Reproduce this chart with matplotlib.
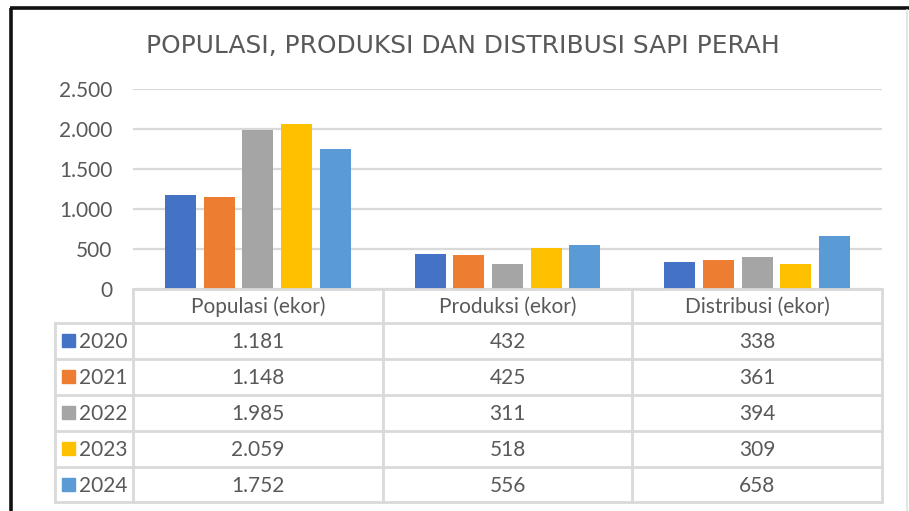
import matplotlib
matplotlib.use("Agg")
import matplotlib.pyplot as plt
import numpy as np

# ---- data ----
categories = ["Populasi (ekor)", "Produksi (ekor)", "Distribusi (ekor)"]
years = ["2020", "2021", "2022", "2023", "2024"]
v2020 = [1181, 432, 338]
v2021 = [1148, 425, 361]
v2022 = [1985, 311, 394]
v2023 = [2059, 518, 309]
v2024 = [1752, 556, 658]
series = [v2020, v2021, v2022, v2023, v2024]
labels_fmt = [["1.181", "432", "338"], ["1.148", "425", "361"], ["1.985", "311", "394"],
              ["2.059", "518", "309"], ["1.752", "556", "658"]]
yticks = [0, 500, 1000, 1500, 2000, 2500]
ytick_labels = ["0", "500", "1.000", "1.500", "2.000", "2.500"]
title = "POPULASI, PRODUKSI DAN DISTRIBUSI SAPI PERAH"
colors = ["#4472C4", "#ED7D31", "#A5A5A5", "#FFC000", "#5B9BD5"]

W, H = 909, 511
fig = plt.figure(figsize=(W / 100, H / 100), dpi=100)
fig.patch.set_facecolor("white")

TXT = "#595959"
GRID = "#D9D9D9"
FONT = ["Lato", "DejaVu Sans"]
FS = 15

def fx(px):
    return px / W

def fy(py):
    return 1 - py / H

# main axes
x0, x1, ytop, ybot = 133, 882, 89, 289
ax = fig.add_axes([fx(x0), fy(ybot), fx(x1) - fx(x0), (ybot - ytop) / H])
ax.set_xlim(-0.5, 2.5)
ax.set_ylim(0, 2500)
x = np.arange(len(categories))
bw = 0.124
step = 0.155
for i, (vals, c) in enumerate(zip(series, colors)):
    ax.bar(x + (i - 2) * step, vals, width=bw, color=c, zorder=3)
ax.set_yticks(yticks)
ax.set_yticklabels(ytick_labels, fontfamily=FONT, fontsize=FS, color=TXT)
ax.tick_params(axis="y", length=0, pad=15)
ax.set_xticks([])
ax.grid(axis="y", color=GRID, linewidth=1.6, zorder=0)
for s in ax.spines.values():
    s.set_visible(False)
ax.set_facecolor("none")

# overlay axes in pixel coordinates for table and frame
ov = fig.add_axes([0, 0, 1, 1])
ov.set_xlim(0, W)
ov.set_ylim(H, 0)
ov.axis("off")
ov.set_facecolor("none")

# frame
ov.plot([10, W], [8.5, 8.5], color="#111111", lw=2.6, solid_capstyle="butt")
ov.plot([10.5, 10.5], [8, H], color="#111111", lw=2.6, solid_capstyle="butt")
ov.plot([907, 907], [10, H], color="#E0E0E0", lw=1.2)

# title
ov.text(463, 52.5, title, ha="center", va="baseline", fontsize=17.9,
        family=["DejaVu Sans"], color=TXT)

# table
col_edges = [x0 + (x1 - x0) * k / 3 for k in range(4)]
row_edges = [289, 323, 359, 395, 431, 467, 502]
leg_left = 55
lw_t = 2.0
ov.plot([col_edges[0], col_edges[-1]], [row_edges[0], row_edges[0]], color=GRID, lw=lw_t)
for r in row_edges[1:]:
    ov.plot([leg_left, col_edges[-1]], [r, r], color=GRID, lw=lw_t)
for ce in col_edges:
    ov.plot([ce, ce], [row_edges[0], row_edges[-1]], color=GRID, lw=lw_t)
ov.plot([leg_left, leg_left], [row_edges[1], row_edges[-1]], color=GRID, lw=lw_t)

for j, cat in enumerate(categories):
    cx = (col_edges[j] + col_edges[j + 1]) / 2
    ov.text(cx, (row_edges[0] + row_edges[1]) / 2 + 1, cat, ha="center", va="center",
            fontsize=FS, family=FONT, color=TXT)
for i, yr in enumerate(years):
    cy = (row_edges[i + 1] + row_edges[i + 2]) / 2
    ov.add_patch(plt.Rectangle((62, cy - 6.5), 13, 13, color=colors[i]))
    ov.text(79, cy + 1, yr, ha="left", va="center", fontsize=FS, family=FONT, color=TXT)
    for j in range(3):
        cx = (col_edges[j] + col_edges[j + 1]) / 2
        ov.text(cx, cy + 1, labels_fmt[i][j], ha="center", va="center",
                fontsize=FS, family=FONT, color=TXT)

fig.savefig("out.png", dpi=100, facecolor="white")
